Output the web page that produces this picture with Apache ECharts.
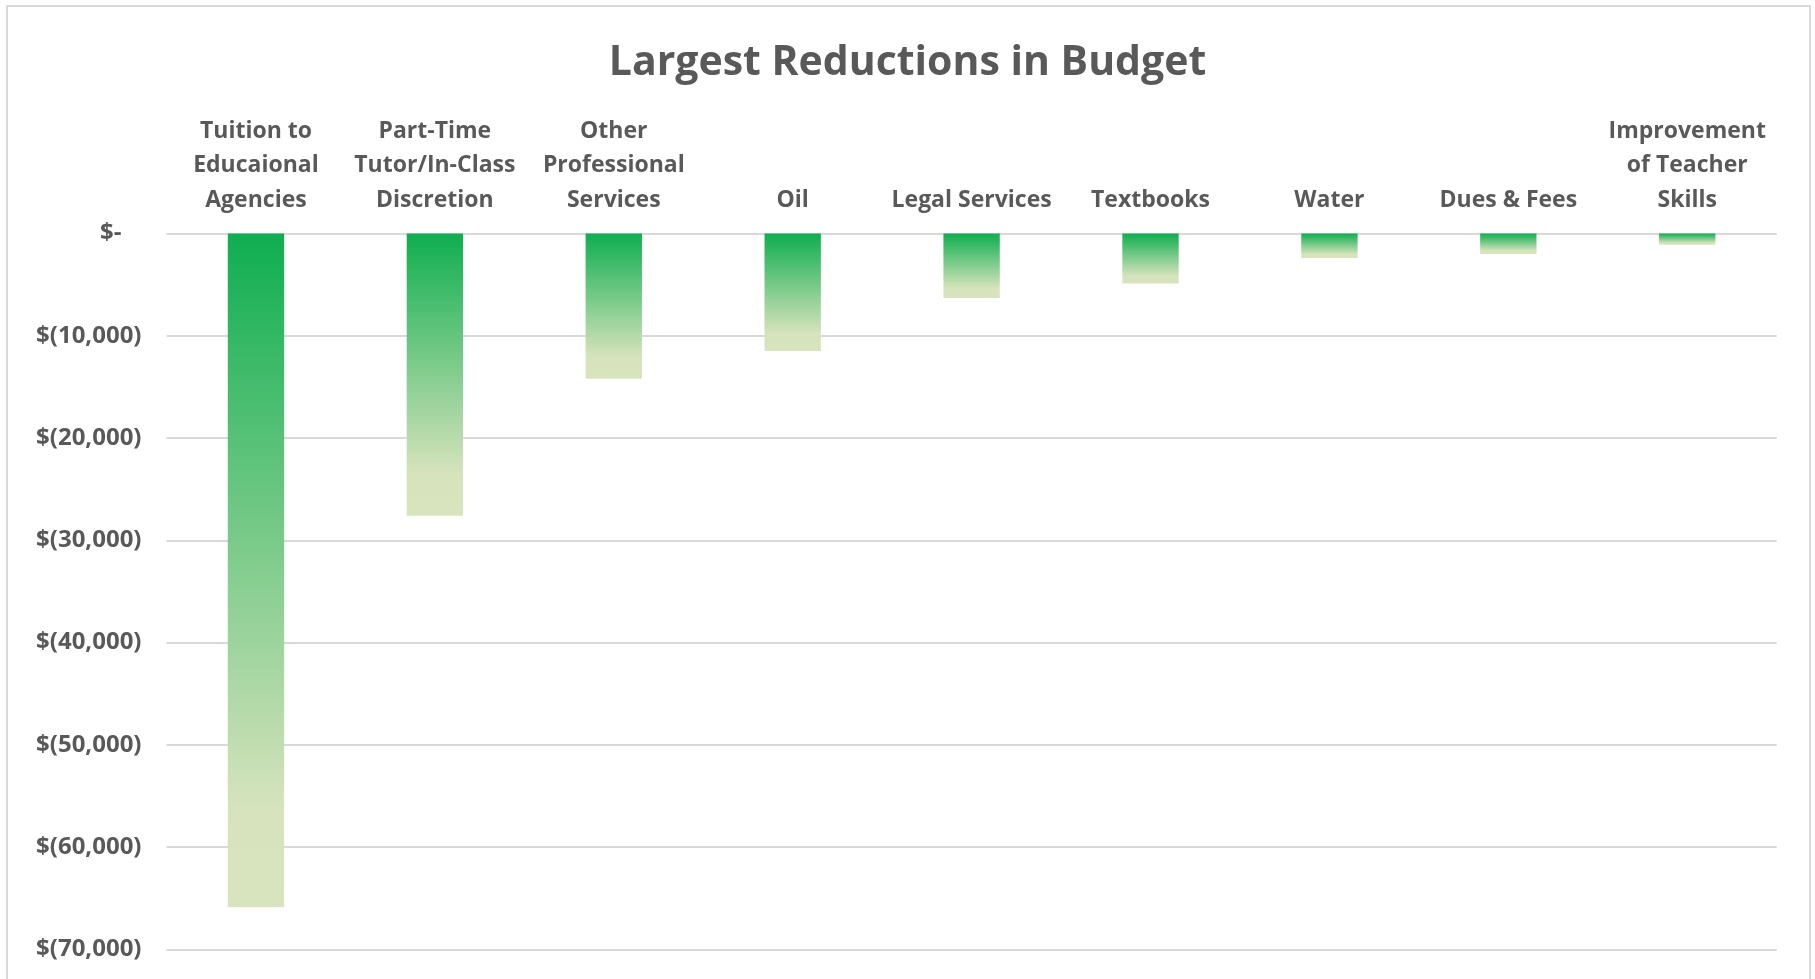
<!DOCTYPE html>
<html>
<head>
<meta charset="utf-8">
<style>
  html, body { margin: 0; padding: 0; background: #ffffff; }
  #chart { width: 1815px; height: 979px; }
</style>
<script src="https://cdn.jsdelivr.net/npm/echarts@6/dist/echarts.min.js"></script>
</head>
<body>
<div id="chart"></div>
<script>
// Budget line items with the largest reductions (dollars)
const categories = [
  'Tuition to\nEducaional\nAgencies',
  'Part-Time\nTutor/In-Class\nDiscretion',
  'Other\nProfessional\nServices',
  'Oil',
  'Legal Services',
  'Textbooks',
  'Water',
  'Dues & Fees',
  'Improvement\nof Teacher\nSkills'
];
const reductions = [-65900, -27600, -14200, -11500, -6300, -4900, -2400, -2000, -1100];

// Value axis range and step
const axisMin = -70000;
const axisMax = 0;
const axisStep = 10000;

const textColor = '#595959';
const fontFamily = '"Open Sans", "Noto Sans", sans-serif';

function moneyLabel(v) {
  if (v === 0) return '{z|$-}';
  const s = Math.abs(v).toLocaleString('en-US');
  return v < 0 ? '$(' + s + ')' : '$' + s;
}

const chart = echarts.init(document.getElementById('chart'), null, { renderer: 'canvas' });

chart.setOption({
  backgroundColor: '#ffffff',
  animation: false,
  title: {
    text: 'Largest Reductions in Budget',
    left: 'center',
    top: 38,
    textStyle: {
      color: textColor,
      fontFamily: fontFamily,
      fontWeight: 'bold',
      fontSize: 41
    }
  },
  graphic: [{
    type: 'rect',
    silent: true,
    shape: { x: 7, y: 6, width: 1803, height: 1000 },
    style: { fill: 'none', stroke: '#d9d9d9', lineWidth: 2 }
  }],
  grid: { left: 166.5, right: 38.3, top: 233.5, bottom: 29.7, containLabel: false },
  xAxis: {
    type: 'category',
    position: 'top',
    data: categories,
    axisLine: { show: false },
    axisTick: { show: false },
    axisLabel: {
      interval: 0,
      margin: 16,
      color: textColor,
      fontFamily: fontFamily,
      fontWeight: 'bold',
      fontSize: 23,
      lineHeight: 34.5
    }
  },
  yAxis: {
    type: 'value',
    min: axisMin,
    max: axisMax,
    interval: axisStep,
    axisLine: { show: false },
    axisTick: { show: false },
    splitLine: { lineStyle: { color: '#d9d9d9', width: 2 } },
    axisLabel: {
      margin: 25,
      color: textColor,
      fontFamily: fontFamily,
      fontWeight: 'bold',
      fontSize: 24,
      formatter: moneyLabel,
      rich: {
        z: {
          color: textColor,
          fontFamily: fontFamily,
          fontWeight: 'bold',
          fontSize: 24,
          padding: [0, 20, 0, 0]
        }
      }
    }
  },
  series: [{
    type: 'bar',
    data: reductions,
    barWidth: '31.5%',
    itemStyle: {
      color: new echarts.graphic.LinearGradient(0, 0, 0, 1, [
        { offset: 0, color: '#0fae50' },
        { offset: 0.85, color: '#d6e3bc' },
        { offset: 1, color: '#d7e4bd' }
      ])
    }
  }]
});
</script>
</body>
</html>
